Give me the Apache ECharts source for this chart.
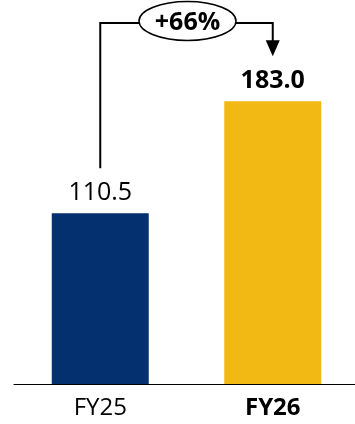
<!DOCTYPE html>
<html><head><meta charset="utf-8">
<script src="https://cdn.jsdelivr.net/npm/echarts@6/dist/echarts.min.js"></script>
<style>html,body{margin:0;padding:0;background:#fff}#c{width:355px;height:424px}</style>
</head><body><div id="c"></div>
<script>
const categories = ['FY25', 'FY26'];
const values = [110.5, 183.0];
const changeLabel = '+66%';
const barColors = ['#04306F', '#F2B814'];
const boldFlags = [false, true];

const FONT = 'Open Sans';
const chart = echarts.init(document.getElementById('c'), null, {renderer: 'canvas'});
chart.setOption({
  animation: false,
  grid: {left: 14, width: 345, top: 75, bottom: 40, containLabel: false, outerBoundsMode: 'none'},
  xAxis: {
    type: 'category', data: categories,
    axisLine: {show: true, lineStyle: {color: '#000', width: 1}},
    axisTick: {show: false},
    axisLabel: {
      margin: 12,
      formatter: (v, i) => boldFlags[i] ? '{b|' + v + '}' : '{n|' + v + '}',
      rich: {
        n: {fontFamily: FONT, fontSize: 24, color: '#000'},
        b: {fontFamily: FONT, fontSize: 24, color: '#000', fontWeight: 'bold'}
      }
    }
  },
  yAxis: {type: 'value', min: 0, max: 200, show: false, splitLine: {show: false}},
  series: [{
    type: 'bar', barWidth: 97,
    data: values.map((v, i) => ({
      value: v,
      itemStyle: {color: barColors[i]},
      label: {
        show: true, position: 'top', distance: 8,
        formatter: (p) => p.value.toFixed(1),
        fontFamily: FONT, fontSize: 25, color: '#000',
        fontWeight: boldFlags[i] ? 'bold' : 'normal'
      }
    }))
  }]
});

// annotation bracket built from the axis scales
const p0 = chart.convertToPixel({xAxisIndex: 0, yAxisIndex: 0}, [0, values[0]]);
const p1 = chart.convertToPixel({xAxisIndex: 0, yAxisIndex: 0}, [1, values[1]]);
const topY = 23;
const cx = (p0[0] + p1[0]) / 2 + 1;
const cy = 21;
const rx = 48.5, ry = 19.5;
const startY = p0[1] - 45;
const arrowTip = p1[1] - 45;
const lw = 2;
chart.setOption({
  graphic: [
    {type: 'polyline', shape: {points: [[p0[0], startY], [p0[0], topY], [cx - rx, topY]]},
     style: {stroke: '#000', lineWidth: lw, fill: null}},
    {type: 'polyline', shape: {points: [[cx + rx, topY], [p1[0], topY], [p1[0], arrowTip - 14]]},
     style: {stroke: '#000', lineWidth: lw, fill: null}},
    {type: 'polygon', shape: {points: [[p1[0] - 7, arrowTip - 16], [p1[0] + 7, arrowTip - 16], [p1[0], arrowTip]]},
     style: {fill: '#000'}},
    {type: 'ellipse', shape: {cx: cx, cy: cy, rx: rx, ry: ry},
     style: {fill: '#fff', stroke: '#000', lineWidth: 1.5}},
    {type: 'text', x: cx, y: cy + 2, style: {text: changeLabel, fontFamily: FONT, fontSize: 25, fontWeight: 'bold',
      fill: '#000', align: 'center', verticalAlign: 'middle'}}
  ]
});
</script></body></html>
